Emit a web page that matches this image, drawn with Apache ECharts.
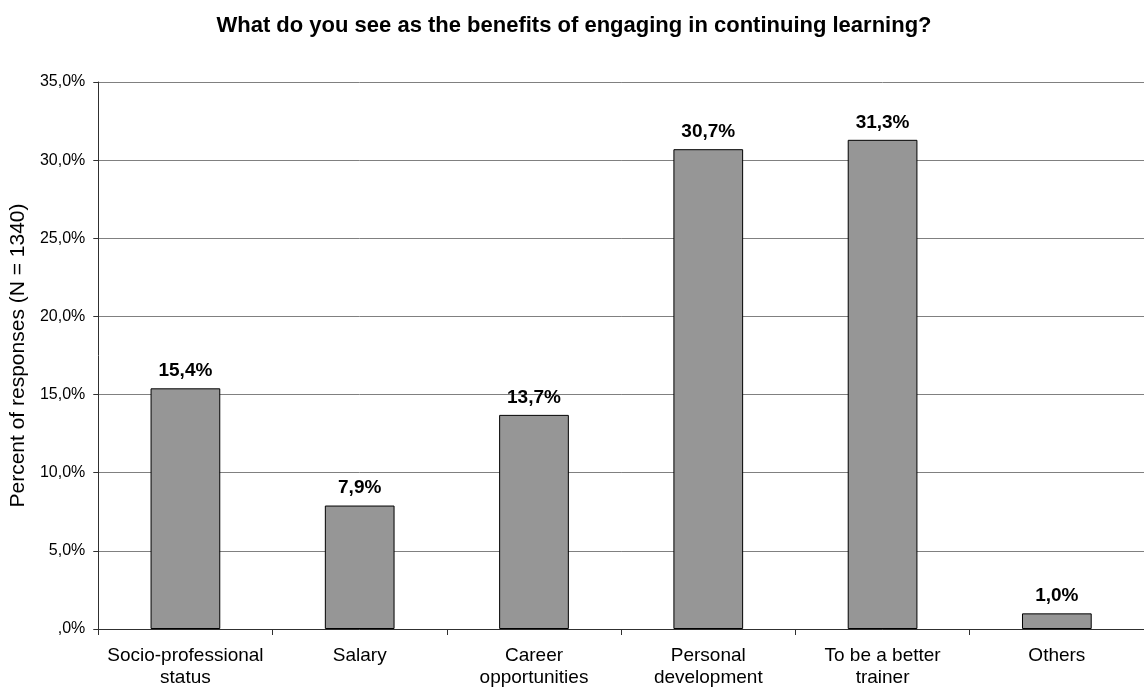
<!DOCTYPE html>
<html>
<head>
<meta charset="utf-8">
<script src="https://cdn.jsdelivr.net/npm/echarts@6/dist/echarts.min.js"></script>
<style>html,body{margin:0;padding:0;background:#fff;}#c{width:1144px;height:691px;}</style>
</head>
<body>
<div id="c"></div>
<script>
const categories = ["Socio-professional\nstatus", "Salary", "Career\nopportunities", "Personal\ndevelopment", "To be a better\ntrainer", "Others"];
const values = [15.4, 7.9, 13.7, 30.7, 31.3, 1.0];
const titleText = "What do you see as the benefits of engaging in continuing learning?";
const yAxisName = "Percent of responses (N = 1340)";

function fmtPct(v) {
  const s = v.toFixed(1).replace('.', ',');
  return (s.startsWith('0,') ? s.slice(1) : s) + '%';
}

const FONT = 'Liberation Sans, Arial, sans-serif';
const chart = echarts.init(document.getElementById('c'), null, {renderer: 'canvas'});
chart.setOption({
  animation: false,
  backgroundColor: '#ffffff',
  textStyle: {fontFamily: FONT},
  title: {
    text: titleText,
    left: 569, top: 10, textAlign: 'center',
    textStyle: {fontSize: 22, fontWeight: 'bold', color: '#000', fontFamily: FONT}
  },
  grid: {left: 96, top: 82, width: 1053, height: 547, containLabel: false},
  xAxis: {
    type: 'category',
    data: categories,
    axisLine: {lineStyle: {color: '#303030', width: 1}},
    axisTick: {show: true, length: 6, alignWithLabel: false, lineStyle: {color: '#303030'}},
    axisLabel: {color: '#000', fontSize: 19, margin: 16, lineHeight: 22, interval: 0, fontFamily: FONT},
    splitLine: {show: false}
  },
  yAxis: {
    type: 'value',
    min: 0, max: 35, interval: 5,
    name: yAxisName,
    nameLocation: 'middle',
    nameGap: 62,
    nameRotate: 90,
    nameTextStyle: {color: '#000', fontSize: 21, fontFamily: FONT},
    axisLine: {show: true, lineStyle: {color: '#303030', width: 1}},
    axisTick: {show: true, length: 5, lineStyle: {color: '#303030'}},
    axisLabel: {color: '#000', fontSize: 16, margin: 13, formatter: v => fmtPct(v), fontFamily: FONT},
    splitLine: {show: true, lineStyle: {color: '#808080', width: 1}}
  },
  series: [{
    type: 'bar',
    data: values,
    barWidth: '40%',
    itemStyle: {color: '#969696', borderColor: '#000', borderWidth: 1},
    label: {
      show: true, position: 'top', distance: 8,
      formatter: p => fmtPct(p.value),
      color: '#000', fontSize: 19, fontWeight: 'bold', fontFamily: FONT
    }
  }]
});
</script>
</body>
</html>
